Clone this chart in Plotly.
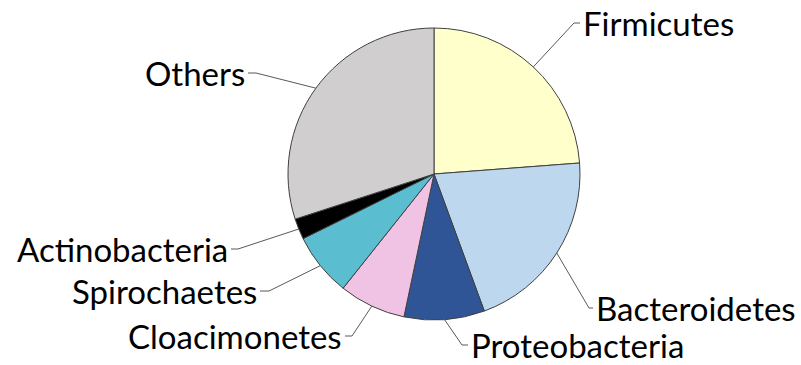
import math
import plotly.graph_objects as go

# Phylum composition (percent of reads)
phyla = ["Firmicutes", "Bacteroidetes", "Proteobacteria", "Cloacimonetes",
         "Spirochaetes", "Actinobacteria", "Others"]
shares = [23.8, 20.6, 8.9, 7.4, 7.0, 2.3, 30.0]
colors = ["#FFFFCC", "#BDD7EE", "#2F5597", "#F0C3E5", "#5BBDD0", "#000000", "#D0CECE"]

W, H = 801, 365
CX, CY, R = 434, 174, 146  # pie centre and radius in pixels

# Label placement: (elbow x, elbow y, text x, anchor)
label_pos = {
    "Firmicutes":     (574, 23, 580, "left"),
    "Bacteroidetes":  (589, 308, 593, "left"),
    "Proteobacteria": (462, 345, 468, "left"),
    "Cloacimonetes":  (352, 336, 345, "right"),
    "Spirochaetes":   (269, 291, 260, "right"),
    "Actinobacteria": (238, 249, 231, "right"),
    "Others":         (256, 73, 248, "right"),
}

def px(x):
    return x / W

def py(y):
    return 1 - y / H

fig = go.Figure(go.Pie(
    labels=phyla, values=shares, sort=False, direction="clockwise", rotation=0,
    marker=dict(colors=colors, line=dict(color="#404040", width=1)),
    textinfo="none", hoverinfo="label+percent", showlegend=False,
    domain=dict(x=[px(CX - R), px(CX + R)], y=[py(CY + R), py(CY - R)]),
))

shapes, annotations = [], []
total = sum(shares)
acc = 0.0
for name, v in zip(phyla, shares):
    mid = (acc + v / 2) / total * 2 * math.pi
    acc += v
    sx = CX + R * math.sin(mid)
    sy = CY - R * math.cos(mid)
    ex, ey, tx, anchor = label_pos[name]
    shapes.append(dict(type="path", xref="paper", yref="paper",
                       path=f"M {px(sx)},{py(sy)} L {px(ex)},{py(ey)} L {px(tx)},{py(ey)}",
                       line=dict(color="#595959", width=1)))
    annotations.append(dict(text=name, x=px(tx + (1 if anchor == "left" else -1)), y=py(ey),
                            xref="paper", yref="paper", xanchor=anchor, yanchor="middle",
                            showarrow=False,
                            font=dict(family="Lato, Open Sans, sans-serif", size=33, color="#000000")))

fig.update_layout(
    width=W, height=H, margin=dict(l=0, r=0, t=0, b=0),
    paper_bgcolor="white", plot_bgcolor="white",
    shapes=shapes, annotations=annotations,
)

fig.write_html("out.html")
